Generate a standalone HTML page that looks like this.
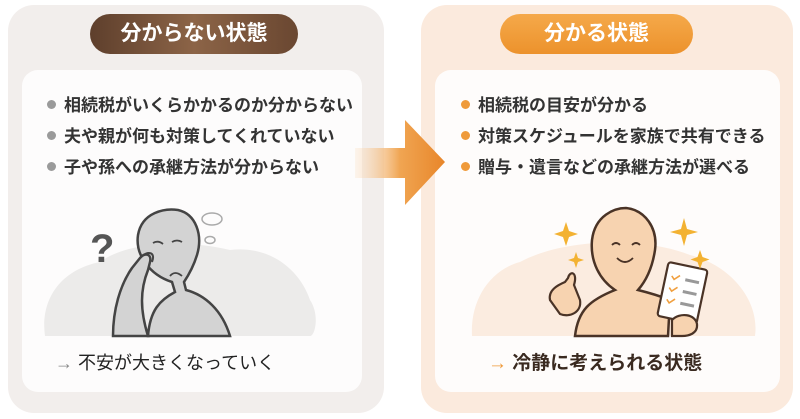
<!DOCTYPE html>
<html><head><meta charset="utf-8"><style>
*{margin:0;padding:0;box-sizing:border-box}
body{width:800px;height:419px;background:#fff;position:relative;overflow:hidden;font-family:"Liberation Sans","Noto Sans CJK JP",sans-serif}
.abs{position:absolute}
.card{border-radius:26px}
.pill{border-radius:22px;color:#fff;font-size:21px;font-weight:bold;text-align:center;line-height:40px}
.li{position:absolute;font-size:17px;font-weight:bold;color:#333;white-space:nowrap}
.dot{display:inline-block;width:9px;height:9px;border-radius:50%;margin-right:8px;vertical-align:2px}
</style></head><body>
<div class="abs card" style="left:8px;top:5px;width:376px;height:408px;background:#f2eeec"></div>
<div class="abs card" style="left:22px;top:70px;width:340px;height:322px;background:#fdfcfc;border-radius:16px"></div>
<div class="abs pill" style="left:90px;top:14px;width:208px;height:40px;background:linear-gradient(90deg,#5e3f2c,#8c6447,#6a4731)">分からない状態</div>

<div class="abs card" style="left:421px;top:5px;width:372px;height:408px;background:#fbeadd"></div>
<div class="abs card" style="left:435px;top:70px;width:345px;height:322px;background:#fefcfb;border-radius:16px"></div>
<div class="abs pill" style="left:500px;top:14px;width:193px;height:40px;background:linear-gradient(180deg,#f5a94a,#ec922c)">分かる状態</div>

<div class="li" style="left:47px;top:91px"><span class="dot" style="background:#9a9a9a"></span>相続税がいくらかかるのか分からない</div>
<div class="li" style="left:47px;top:122px"><span class="dot" style="background:#9a9a9a"></span>夫や親が何も対策してくれていない</div>
<div class="li" style="left:47px;top:153px"><span class="dot" style="background:#9a9a9a"></span>子や孫への承継方法が分からない</div>

<div class="li" style="left:461px;top:91px"><span class="dot" style="background:#ef9a3a"></span>相続税の目安が分かる</div>
<div class="li" style="left:461px;top:122px"><span class="dot" style="background:#ef9a3a"></span>対策スケジュールを家族で共有できる</div>
<div class="li" style="left:461px;top:153px"><span class="dot" style="background:#ef9a3a"></span>贈与・遺言などの承継方法が選べる</div>

<svg class="abs" style="left:0;top:0" width="800" height="419">
<defs><linearGradient id="ar" x1="0" x2="1"><stop offset="0" stop-color="#fbe1c6" stop-opacity=".3"/><stop offset=".5" stop-color="#f0a552"/><stop offset="1" stop-color="#e8862a"/></linearGradient></defs>
<polygon points="355,148 405,148 405,120 445,162 405,205 405,178 355,178" fill="url(#ar)"/>
<!-- left cloud -->
<path d="M45,336 C40,300 60,270 100,262 C130,240 190,240 230,250 C270,245 300,270 310,300 C320,315 315,336 310,336 Z" fill="#ecebea"/>
<!-- left person body -->
<path d="M148,336 C150,310 160,300 175,292 L172,282 C150,275 135,255 138,235 C142,212 165,208 178,210 C196,214 203,235 197,255 C193,268 188,276 184,282 L186,290 C205,295 222,310 230,336 Z" fill="#d3d3d3" stroke="#444" stroke-width="2.5"/>
<!-- raised arm -->
<path d="M113,336 C113,310 120,285 132,268 L140,258 C145,252 152,254 150,262 L148,270 C140,290 140,310 148,336 Z" fill="#d3d3d3" stroke="#444" stroke-width="2.5"/>
<path d="M140,258 C148,250 156,252 152,262" fill="none" stroke="#444" stroke-width="2"/>
<path d="M153,243 q5,-3 10,1 M172,242 q5,-3 10,0" stroke="#444" stroke-width="1.8" fill="none"/>
<path d="M170,276 q5,-6 12,0" stroke="#444" stroke-width="1.8" fill="none"/>
<text x="90" y="262" font-size="40" font-weight="bold" fill="#555" font-family="Liberation Sans,sans-serif">?</text>
<ellipse cx="212" cy="219" rx="10" ry="6" fill="none" stroke="#aaa" stroke-width="1.5"/>
<ellipse cx="210" cy="240" rx="5" ry="3.5" fill="none" stroke="#aaa" stroke-width="1.5"/>
<!-- right cloud -->
<path d="M472,336 C470,300 490,270 520,262 C560,240 640,235 690,255 C730,265 760,300 755,336 Z" fill="#fbece0"/>
<!-- right person -->
<path d="M575,336 C578,310 590,300 615,290 C600,280 590,262 592,240 C595,215 615,208 626,208 C645,210 658,228 655,250 C652,270 645,282 638,290 C650,293 660,296 670,300 L668,336 Z" fill="#f7d3b0" stroke="#4a3326" stroke-width="2.5"/>
<path d="M612,245 q4,-4 8,0 M632,245 q4,-4 8,0" stroke="#4a3326" stroke-width="1.8" fill="none"/>
<path d="M617,258 q8,8 16,0" stroke="#4a3326" stroke-width="1.8" fill="none"/>
<path d="M550,300 C548,290 558,285 565,282 L568,278 C570,270 578,272 574,285 L580,300 C582,312 570,318 560,314 Z" fill="#f7d3b0" stroke="#4a3326" stroke-width="2.2"/>
<g transform="rotate(12 680 295)"><rect x="662" y="265" width="40" height="55" rx="3" fill="#fff" stroke="#4a3326" stroke-width="2.2"/>
<path d="M668,278 l3,3 5,-5 M668,290 l3,3 5,-5 M668,302 l3,3 5,-5" stroke="#f0a040" stroke-width="1.6" fill="none"/>
<path d="M682,279 h14 M682,291 h14 M682,303 h14" stroke="#999" stroke-width="3"/></g>
<path d="M672,320 C680,312 695,314 697,324 C698,334 688,336 682,336 L672,336 Z" fill="#f7d3b0" stroke="#4a3326" stroke-width="2.2"/>
<g fill="#f3b232">
<path d="M566,222 l3,9 9,3 -9,3 -3,9 -3,-9 -9,-3 9,-3z"/>
<path d="M576,252 l2,6 6,2 -6,2 -2,6 -2,-6 -6,-2 6,-2z"/>
<path d="M684,218 l3,11 11,3 -11,3 -3,11 -3,-11 -11,-3 11,-3z"/>
<path d="M700,250 l2.5,7 7,2.5 -7,2.5 -2.5,7 -2.5,-7 -7,-2.5 7,-2.5z"/>
</g>
</svg>
<div class="abs" style="left:55px;top:349px;font-size:18px;color:#222;white-space:nowrap"><span style="color:#888">→</span> 不安が大きくなっていく</div>
<div class="abs" style="left:488px;top:348px;font-size:19px;color:#3a2a20;font-weight:bold;white-space:nowrap"><span style="color:#ef9a3a;font-weight:normal">→</span> 冷静に考えられる状態</div>
</body></html>
